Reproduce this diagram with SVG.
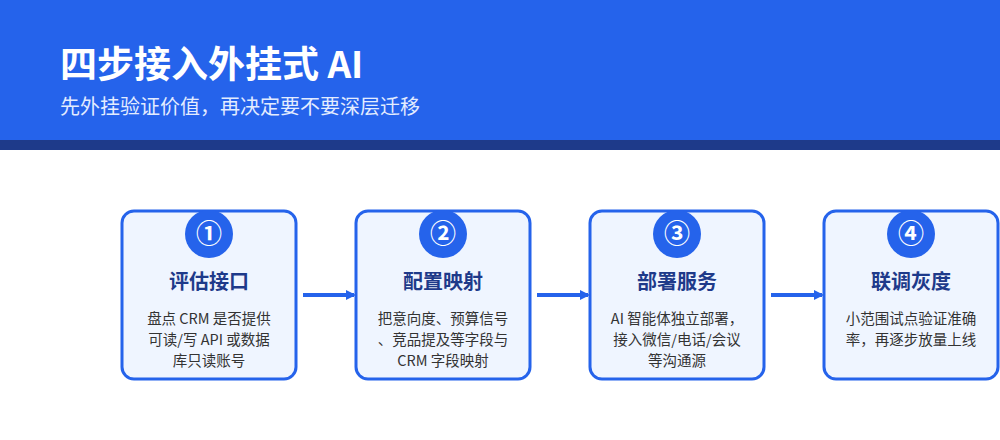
<svg xmlns="http://www.w3.org/2000/svg" width="1000" height="440" viewBox="0 0 1000 440">
<style>
text{font-family:"Noto Sans CJK SC","Noto Sans",sans-serif}
.box{fill:#EFF5FF;stroke:#2563EB;stroke-width:3}
.num{fill:#2563EB}
.n{fill:#fff;font-size:26px;font-weight:bold;text-anchor:middle}
.t{fill:#1E3A8A;font-size:20px;font-weight:bold;text-anchor:middle}
.d{fill:#333;font-size:14.5px;text-anchor:middle}
.c{stroke:#2563EB;stroke-width:4;fill:none}
</style>
<defs><marker id="a" markerWidth="10" markerHeight="10" refX="8" refY="5" orient="auto" markerUnits="userSpaceOnUse"><path d="M0,0L10,5L0,10z" fill="#2563EB"/></marker></defs>
<rect x="0" y="0" width="1000" height="140" fill="#2563EB"/>
<rect x="0" y="140" width="1000" height="10" fill="#1E3A8A"/>
<text x="60" y="78" fill="#fff" font-size="37" font-weight="bold">四步接入外挂式 AI</text>
<text x="60" y="114" fill="#E3ECFF" font-size="20">先外挂验证价值，再决定要不要深层迁移</text>
<g id="connectors">
<line class="c" x1="303" y1="295" x2="354" y2="295" marker-end="url(#a)"/>
<line class="c" x1="537" y1="295" x2="588" y2="295" marker-end="url(#a)"/>
<line class="c" x1="771" y1="295" x2="822" y2="295" marker-end="url(#a)"/>
</g>
<g id="n1"><rect class="box" x="122" y="211" width="174" height="168" rx="12"/><circle class="num" cx="209" cy="234" r="24"/><text class="n" x="209" y="243">①</text><text class="t" x="209" y="289">评估接口</text><text class="d" x="209" y="324">盘点 CRM 是否提供</text><text class="d" x="209" y="345">可读/写 API 或数据</text><text class="d" x="209" y="366">库只读账号</text></g>
<g id="n2"><rect class="box" x="356" y="211" width="174" height="168" rx="12"/><circle class="num" cx="443" cy="234" r="24"/><text class="n" x="443" y="243">②</text><text class="t" x="443" y="289">配置映射</text><text class="d" x="443" y="324">把意向度、预算信号</text><text class="d" x="443" y="345">、竞品提及等字段与</text><text class="d" x="443" y="366">CRM 字段映射</text></g>
<g id="n3"><rect class="box" x="590" y="211" width="174" height="168" rx="12"/><circle class="num" cx="677" cy="234" r="24"/><text class="n" x="677" y="243">③</text><text class="t" x="677" y="289">部署服务</text><text class="d" x="677" y="324">AI 智能体独立部署，</text><text class="d" x="677" y="345">接入微信/电话/会议</text><text class="d" x="677" y="366">等沟通源</text></g>
<g id="n4"><rect class="box" x="824" y="211" width="174" height="168" rx="12"/><circle class="num" cx="911" cy="234" r="24"/><text class="n" x="911" y="243">④</text><text class="t" x="911" y="289">联调灰度</text><text class="d" x="911" y="324">小范围试点验证准确</text><text class="d" x="911" y="345">率，再逐步放量上线</text></g>
</svg>
